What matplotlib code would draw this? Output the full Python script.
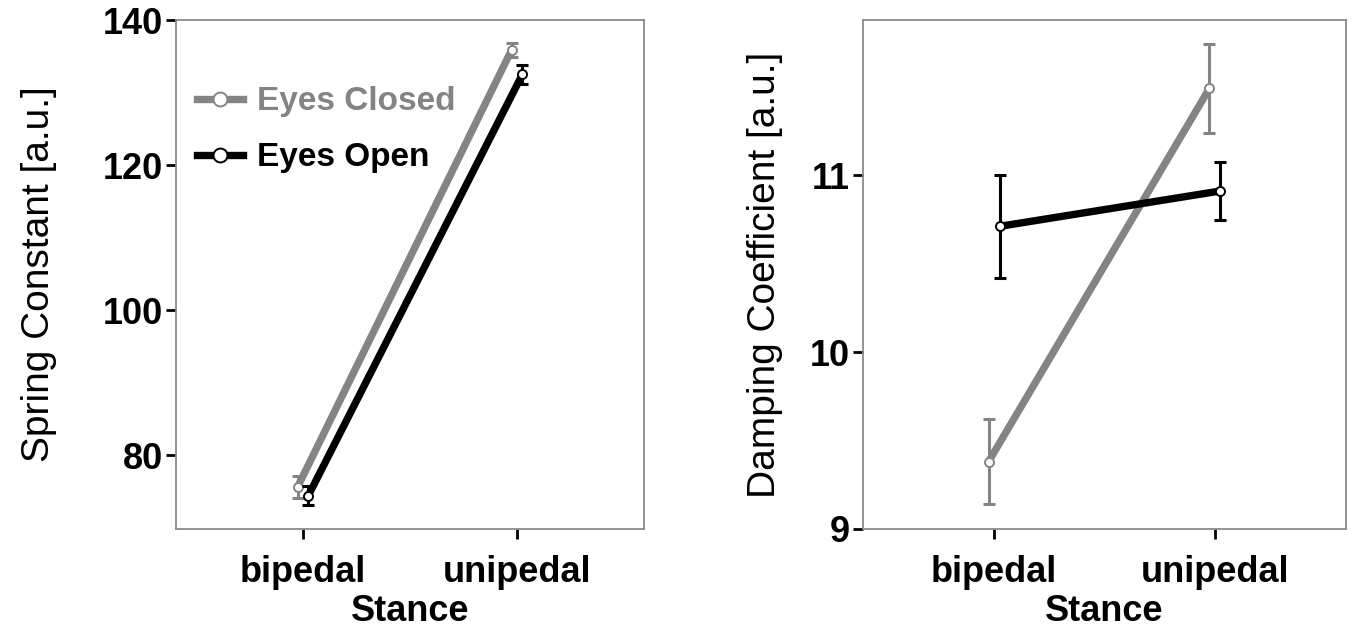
import matplotlib
matplotlib.use("Agg")
import matplotlib.pyplot as plt
from matplotlib.lines import Line2D
import numpy as np

plt.rcParams['font.family'] = ['Liberation Sans', 'DejaVu Sans']

stance = ['bipedal', 'unipedal']
groups = ['Eyes Closed', 'Eyes Open']

spring_closed = [75.6, 135.9]
spring_closed_err = [1.5, 0.95]
spring_open = [74.4, 132.5]
spring_open_err = [1.3, 1.3]

damp_closed = [9.38, 11.49]
damp_closed_err = [0.24, 0.25]
damp_open = [10.71, 10.91]
damp_open_err = [0.29, 0.165]

GRAY = '#848484'
BLACK = '#000000'
SPINE = '#8a8a8a'

fig = plt.figure(figsize=(13.63, 6.31), dpi=100)
W, H = 1363, 631
def rect(l, r, t, b):
    return [l / W, 1 - b / H, (r - l) / W, (b - t) / H]

ax1 = fig.add_axes(rect(176, 644, 20, 529))
ax2 = fig.add_axes(rect(863, 1346, 20, 529))

x = np.arange(len(stance))
dodge = 0.025

def draw(ax, vals, errs, color, off, z):
    xs = x + off
    ax.plot(xs, vals, '-', color=color, lw=5.3, solid_capstyle='butt', zorder=z)
    ax.errorbar(xs, vals, yerr=errs, fmt='none', ecolor=color, elinewidth=2.2,
                capsize=4.5, capthick=2.2, zorder=z + 0.5)
    ax.plot(xs, vals, 'o', ms=6.5, mfc='white', mec=color, mew=1.4,
            linestyle='none', zorder=z + 1)

draw(ax1, spring_closed, spring_closed_err, GRAY, -dodge, 2)
draw(ax1, spring_open, spring_open_err, BLACK, dodge, 5)
draw(ax2, damp_closed, damp_closed_err, GRAY, -dodge, 2)
draw(ax2, damp_open, damp_open_err, BLACK, dodge, 5)

for ax in (ax1, ax2):
    ax.set_xlim(-0.593, 1.593)
    ax.set_xticks(x)
    ax.set_xticklabels(stance, fontsize=26, fontweight='bold')
    for s in ax.spines.values():
        s.set_color(SPINE)
        s.set_linewidth(1.3)
    ax.tick_params(axis='both', direction='out', length=7.5, width=2,
                   color='black', labelsize=26)
    ax.tick_params(axis='x', pad=11)
    ax.tick_params(axis='y', pad=2)
    for lab in ax.get_yticklabels():
        lab.set_fontweight('bold')
    ax.set_xlabel('Stance', fontsize=26, fontweight='bold', labelpad=3)

ax1.set_ylim(69.8, 140)
ax1.set_yticks([80, 100, 120, 140])
ax1.set_yticklabels(['80', '100', '120', '140'], fontsize=26, fontweight='bold')
ax1.set_ylabel('Spring Constant [a.u.]', fontsize=28)
ax1.yaxis.set_label_coords(-0.255, 0.5)

ax2.set_ylim(9, 11.876)
ax2.set_yticks([9, 10, 11])
ax2.set_yticklabels(['9', '10', '11'], fontsize=26, fontweight='bold')
ax2.set_ylabel('Damping Coefficient [a.u.]', fontsize=28)
ax2.yaxis.set_label_coords(-0.165, 0.5)

handles = [
    Line2D([], [], color=GRAY, lw=5.3, marker='o', ms=10, mfc='white', mec=GRAY, mew=1.4),
    Line2D([], [], color=BLACK, lw=5.3, marker='o', ms=10, mfc='white', mec=BLACK, mew=1.4),
]
leg = ax1.legend(handles, groups, loc='upper left', bbox_to_anchor=(0.045, 0.87),
                 frameon=False, borderpad=0, borderaxespad=0, handlelength=1.38,
                 handletextpad=0.42, labelspacing=0.75,
                 prop={'family': 'Liberation Sans', 'weight': 'bold', 'size': 24})
for t, c in zip(leg.get_texts(), [GRAY, BLACK]):
    t.set_color(c)

fig.savefig('out.png', dpi=100)
